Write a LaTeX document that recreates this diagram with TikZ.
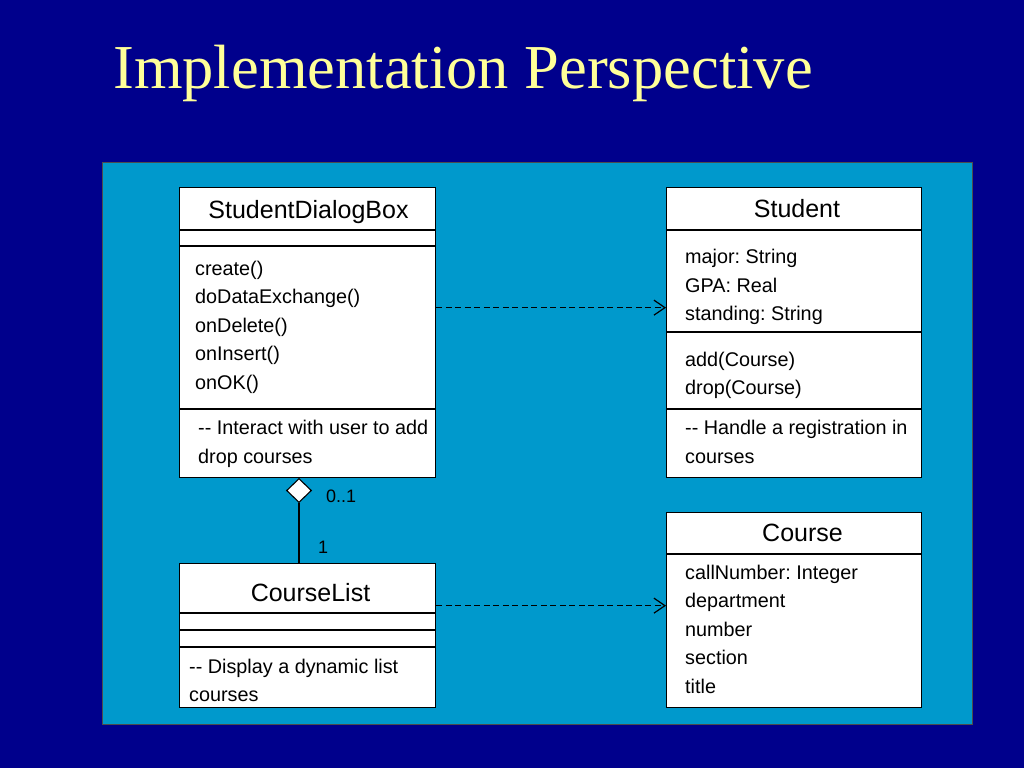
\documentclass[tikz,border=0pt]{standalone}
\usepackage{fontspec}
\setmainfont{Liberation Serif}
\newfontfamily\sansf{Liberation Sans}
\usetikzlibrary{arrows.meta,shapes.geometric}
\frenchspacing
\definecolor{bgnavy}{RGB}{0,0,140}
\definecolor{panelblue}{RGB}{0,153,204}
\definecolor{titleyellow}{RGB}{255,255,153}
\tikzset{
  umlbox/.style={draw=black, fill=white, line width=1.3pt, inner sep=0pt, anchor=north west},
  divider/.style={draw=black, line width=1.1pt},
  hdr/.style={font=\sansf\fontsize{25}{30}\selectfont, inner sep=0pt, anchor=base, text=black},
  txt/.style={font=\sansf\fontsize{19.8}{24}\selectfont, inner sep=0pt, anchor=base west, text=black},
  dep/.style={draw=black, line width=1.4pt, dash pattern=on 6pt off 3.5pt, -{Straight Barb[length=11pt,width=15pt,line width=1.2pt]}},
  agg/.style={draw=black, line width=1.2pt},
  aggtip/.style={diamond, draw=black, fill=white, line width=1.1pt, inner sep=0pt, minimum width=25pt, minimum height=24pt},
  mult/.style={font=\sansf\fontsize{18}{22}\selectfont, inner sep=0pt, anchor=base west, text=black}
}
\begin{document}
\begin{tikzpicture}[x=1pt,y=-1pt]
\useasboundingbox (0,0) rectangle (1024,768);
\fill[bgnavy] (0,0) rectangle (1024,768);
\node[font=\fontsize{62.5}{70}\selectfont, text=titleyellow, inner sep=0pt, anchor=base west] (title) at (113,88) {Implementation Perspective};
\filldraw[fill=panelblue, draw=black!70, line width=1pt] (102,162) rectangle (972,724);

% StudentDialogBox
\node[umlbox, minimum width=256pt, minimum height=290pt] (sdb) at (179,187) {};
\draw[divider] (sdb.west |- 0,230) -- (sdb.east |- 0,230);
\draw[divider] (sdb.west |- 0,246) -- (sdb.east |- 0,246);
\draw[divider] (sdb.west |- 0,409) -- (sdb.east |- 0,409);
\node[hdr] (sdbname) at (308.5,218) {StudentDialogBox};
\foreach \t [count=\i] in {create(),doDataExchange(),onDelete(),onInsert(),onOK()}
  \node[txt] (sdbop\i) at (195,{275+28.5*(\i-1)}) {\t};
\node[txt] (sdbn1) at (198,434) {-- Interact with user to add};
\node[txt] (sdbn2) at (198,463) {drop courses};

% Student
\node[umlbox, minimum width=255pt, minimum height=290pt] (student) at (666,187) {};
\draw[divider] (student.west |- 0,230) -- (student.east |- 0,230);
\draw[divider] (student.west |- 0,332) -- (student.east |- 0,332);
\draw[divider] (student.west |- 0,409) -- (student.east |- 0,409);
\node[hdr] (studentname) at (797,217) {Student};
\foreach \t [count=\i] in {major: String,GPA: Real,standing: String}
  \node[txt] (stat\i) at (685,{263.5+28.5*(\i-1)}) {\t};
\foreach \t [count=\i] in {add(Course),drop(Course)}
  \node[txt] (stop\i) at (685,{366+28.5*(\i-1)}) {\t};
\node[txt] (stn1) at (685,434) {-- Handle a registration in};
\node[txt] (stn2) at (685,463) {courses};

% Course
\node[umlbox, minimum width=255pt, minimum height=195pt] (course) at (666,512) {};
\draw[divider] (course.west |- 0,554) -- (course.east |- 0,554);
\node[hdr] (coursename) at (802.5,541) {Course};
\foreach \t [count=\i] in {callNumber: Integer,department,number,section,title}
  \node[txt] (coat\i) at (685,{579+28.5*(\i-1)}) {\t};

% CourseList
\node[umlbox, minimum width=256pt, minimum height=144pt] (cl) at (179,563) {};
\draw[divider] (cl.west |- 0,613) -- (cl.east |- 0,613);
\draw[divider] (cl.west |- 0,630) -- (cl.east |- 0,630);
\draw[divider] (cl.west |- 0,647) -- (cl.east |- 0,647);
\node[hdr] (clname) at (310.5,601) {CourseList};
\node[txt] (cln1) at (189,673) {-- Display a dynamic list};
\node[txt] (cln2) at (189,701.5) {courses};

% dependencies
\coordinate (d1s) at ([yshift=25pt]sdb.east);
\coordinate (d1e) at (d1s -| student.west);
\draw[dep] (d1s) -- (d1e);
\coordinate (d2s) at ([yshift=30pt]cl.east);
\coordinate (d2e) at (d2s -| course.west);
\draw[dep] (d2s) -- (d2e);

% aggregation
\node[aggtip] (dia) at (299,490.5) {};
\draw[agg] (dia.south) -- (dia.south |- cl.north);
\node[mult] (m01) at (326,502) {0..1};
\node[mult] (m1) at (318,553) {1};
\end{tikzpicture}
\end{document}
